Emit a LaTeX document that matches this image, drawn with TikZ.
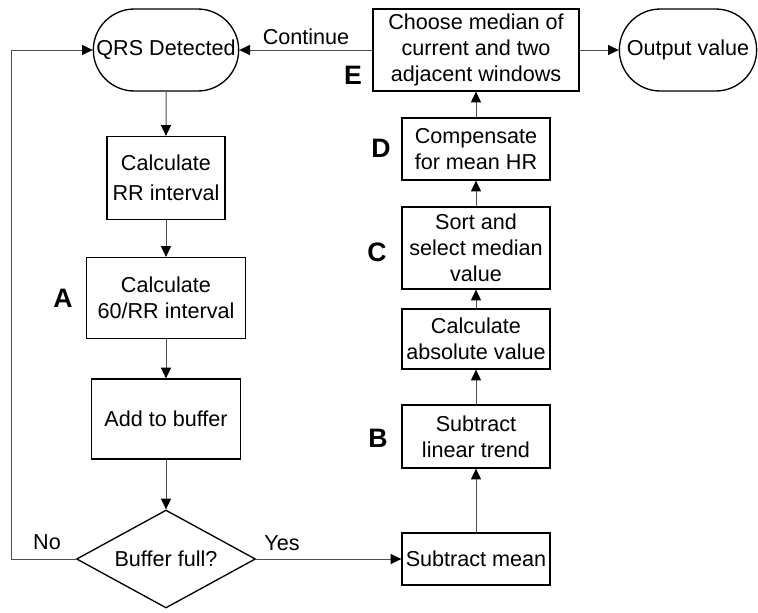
\documentclass[tikz,border=0pt]{standalone}
\usepackage{fontspec}
\setmainfont{Liberation Sans}
\usetikzlibrary{arrows.meta,shapes.geometric,shapes.misc}

\begin{document}
\begin{tikzpicture}[x=0.75pt, y=-0.75pt, >={Triangle[length=8pt, width=7.5pt, color=black]},
  font=\fontsize{16.2}{19.5}\selectfont,
  proc/.style={rectangle, draw, line width=1pt, align=center, inner sep=2pt, minimum width=111pt},
  term/.style={rounded rectangle, draw, line width=1pt, align=center, inner sep=1pt, minimum height=61.5pt},
  tag/.style={font=\fontsize{20}{22}\selectfont\bfseries},
  flow/.style={->, draw=black!70, line width=0.75pt}]
\useasboundingbox (0,0) rectangle (758,612);
% left column
\node[term, minimum width=111pt] (qrs) at (166,50) {QRS Detected};
\node[proc, minimum width=88.5pt, minimum height=62.25pt] (rr) at (166,178) {Calculate\\[3pt]RR interval};
\node[proc, minimum width=119.25pt, minimum height=60.75pt] (inv) at (166,298) {Calculate\\60/RR interval};
\node[proc, minimum width=111.75pt, minimum height=60pt] (buf) at (166,419) {Add to buffer};
\node[diamond, draw, line width=1pt, inner sep=0pt, shape aspect=1.83, minimum width=134.25pt, minimum height=73.5pt] (full) at (166,559) {Buffer full?};
\node[tag] (la) at (63,298) {A};
% right column
\node[proc, minimum height=39pt] (mean) at (476,559) {Subtract mean};
\node[proc, minimum height=47.25pt] (trend) at (476,436.5) {Subtract\\linear trend};
\node[proc, minimum height=45pt] (abs) at (476,339) {Calculate\\absolute value};
\node[proc, minimum height=61.5pt] (sort) at (476,248) {Sort and\\select median\\value};
\node[proc, minimum height=46.5pt] (comp) at (476,149) {Compensate\\for mean HR};
\node[proc, minimum width=154.5pt, minimum height=61.5pt] (med) at (476,50) {Choose median of\\current and two\\adjacent windows};
\node[term, minimum width=105pt] (out) at (688,50) {Output value};
\node[tag] (lb) at (378,438) {B};
\node[tag] (lc) at (377,252) {C};
\node[tag] (ld) at (381,148) {D};
\node[tag] (le) at (353,75) {E};
% connectors
\draw[flow] (qrs) -- (rr);
\draw[flow] (rr) -- (inv);
\draw[flow] (inv) -- (buf);
\draw[flow] (buf) -- (full);
\coordinate (loop) at (11,559);
\draw[flow] (full.west) -- (loop) |- (qrs.west);
\node (no) at (47,542) {No};
\draw[flow] (full.east) -- (mean.west);
\node (yes) at (282,543) {Yes};
\draw[flow] (mean) -- (trend);
\draw[flow] (trend) -- (abs);
\draw[flow] (abs) -- (sort);
\draw[flow] (sort) -- (comp);
\draw[flow] (comp) -- (med);
\draw[flow] (med) -- (out);
\draw[flow] (med.west) -- (qrs.east);
\node (cont) at (306,37) {Continue};
\end{tikzpicture}
\end{document}
